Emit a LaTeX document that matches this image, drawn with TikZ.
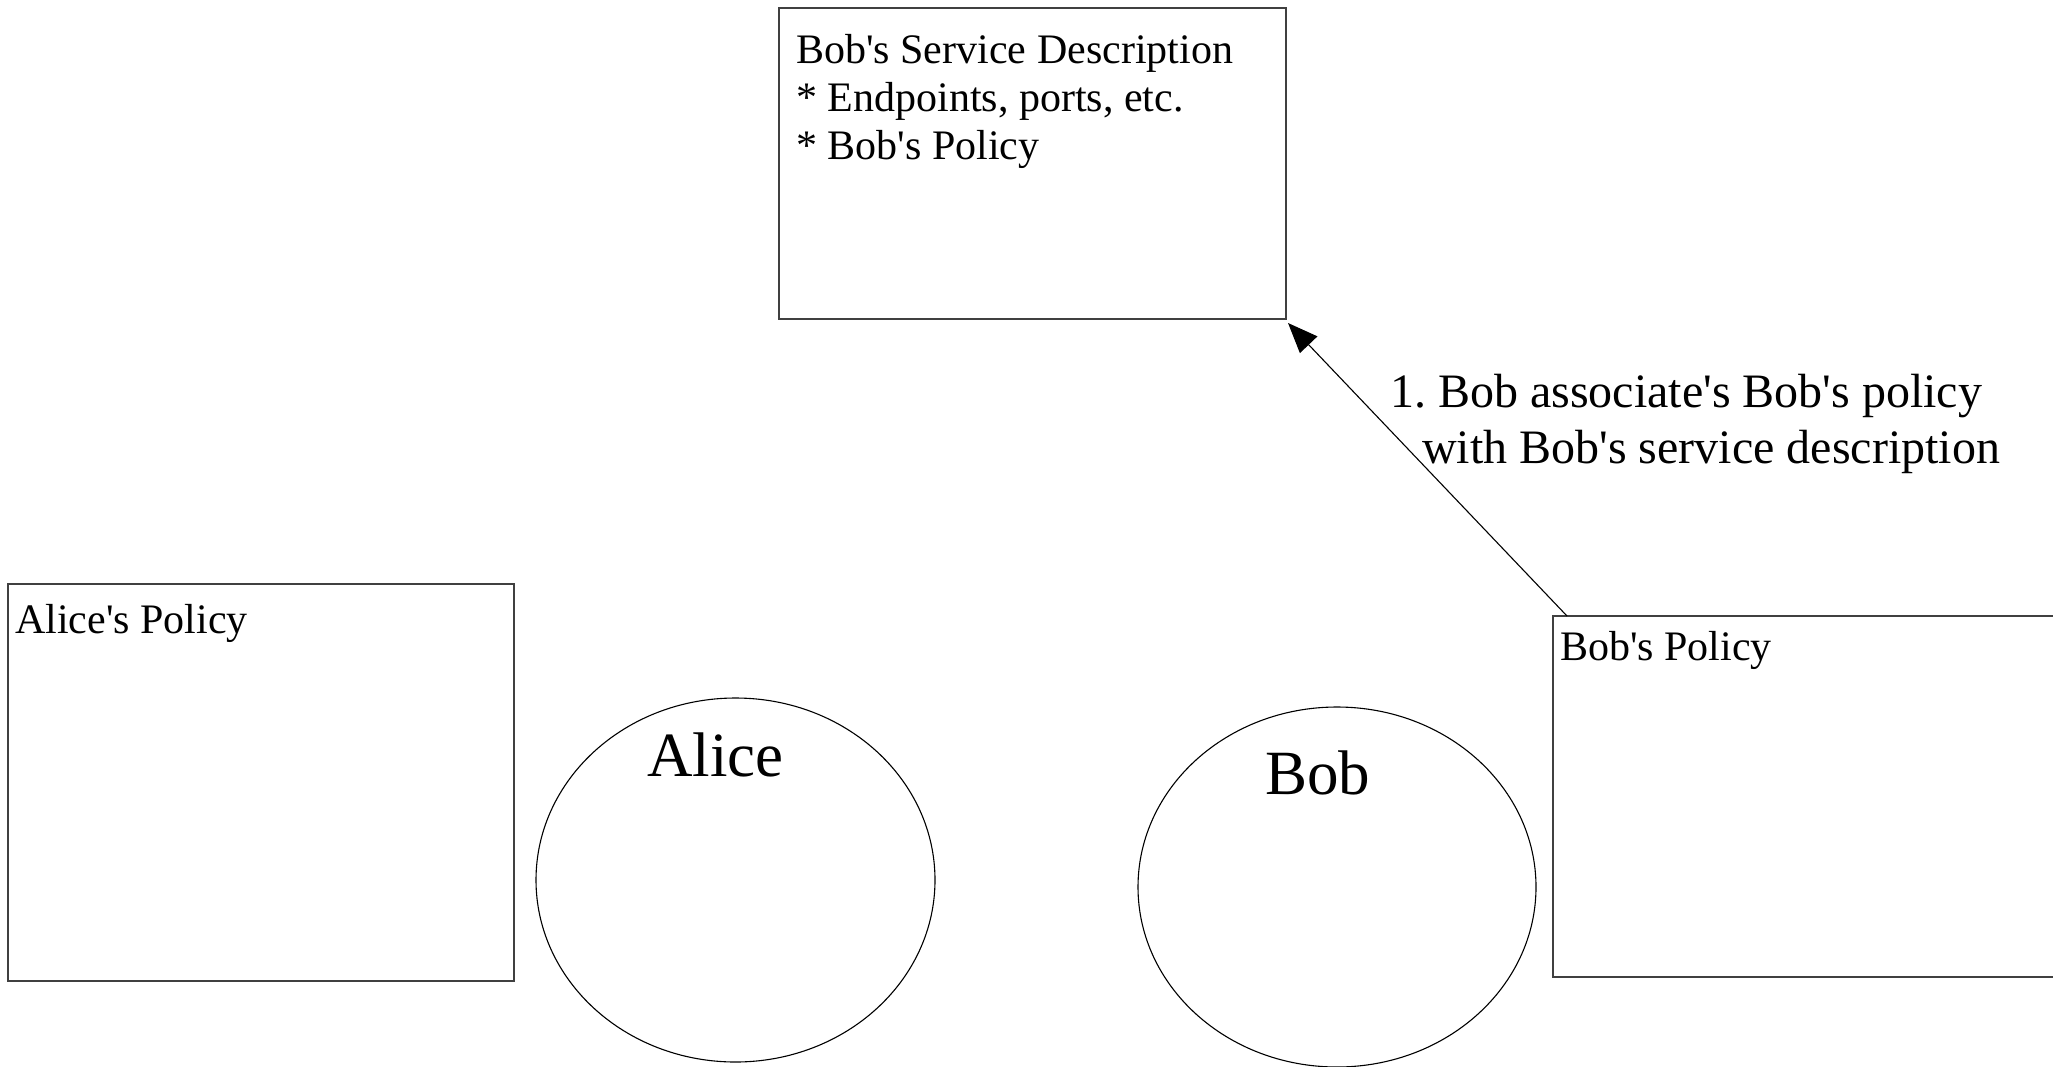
\documentclass[tikz,border=0pt]{standalone}
\usepackage{fontspec}
\setmainfont{Liberation Serif}
\usetikzlibrary{shapes.geometric,arrows.meta,calc}
\newcommand{\ap}{\textquotesingle}
\tikzset{
  boxshape/.style={draw=black!75, line width=1.6pt, inner sep=0pt, outer sep=0pt, anchor=north west},
  personshape/.style={draw=black, line width=1.1pt, ellipse, inner sep=0pt, outer sep=0pt},
  boxtext/.style={inner sep=0pt, anchor=base west, align=left, font=\frenchspacing\fontsize{42}{48}\selectfont},
  nametext/.style={inner sep=0pt, anchor=base west, font=\fontsize{63}{70}\selectfont},
  steptext/.style={inner sep=0pt, anchor=base west, align=left, font=\frenchspacing\fontsize{48}{56}\selectfont},
  flow/.style={draw=black, line width=1.1pt, -{Triangle[length=30pt, width=24pt]}}
}
\begin{document}
\begin{tikzpicture}[x=1pt, y=-1pt]
  \clip (0,0) rectangle (2053,1066);
  \fill[white] (0,0) rectangle (2053,1066);

  % service description box (a multi-line node sits on the baseline of its last line)
  \node[boxshape, minimum width=507pt, minimum height=311pt] (sd) at (779,8) {};
  \node[boxtext] (sdtext) at (796,159)
    {Bob\ap s Service Description\\* Endpoints, ports, etc.\\* Bob\ap s Policy};

  % policy boxes
  \node[boxshape, minimum width=506pt, minimum height=397pt] (alicepol) at (8,584) {};
  \node[boxtext] (alicepoltext) at (15,633) {Alice\ap s Policy};

  \node[boxshape, minimum width=520pt, minimum height=361pt] (bobpol) at (1553,616) {};
  \node[boxtext] (bobpoltext) at (1560,660) {Bob\ap s Policy};

  % the two parties
  \node[personshape, minimum width=399pt, minimum height=364pt] (alice) at (735.5,880) {};
  \node[nametext] (alicename) at (647,776) {Alice};

  \node[personshape, minimum width=398pt, minimum height=360pt] (bob) at (1337,887) {};
  \node[nametext] (bobname) at (1265,794) {Bob};

  % step 1: association of the policy
  \coordinate (bobpolfoot) at ($(bobpol.north west)+(14,0)$);
  \coordinate (sdtip) at ($(sd.south east)+(2,4)$);
  \draw[flow] (bobpolfoot) -- (sdtip);
  \node[steptext] (step1) at (1390,463)
    {1. Bob associate\ap s Bob\ap s policy\\\hspace*{32pt}with Bob\ap s service description};
\end{tikzpicture}
\end{document}
